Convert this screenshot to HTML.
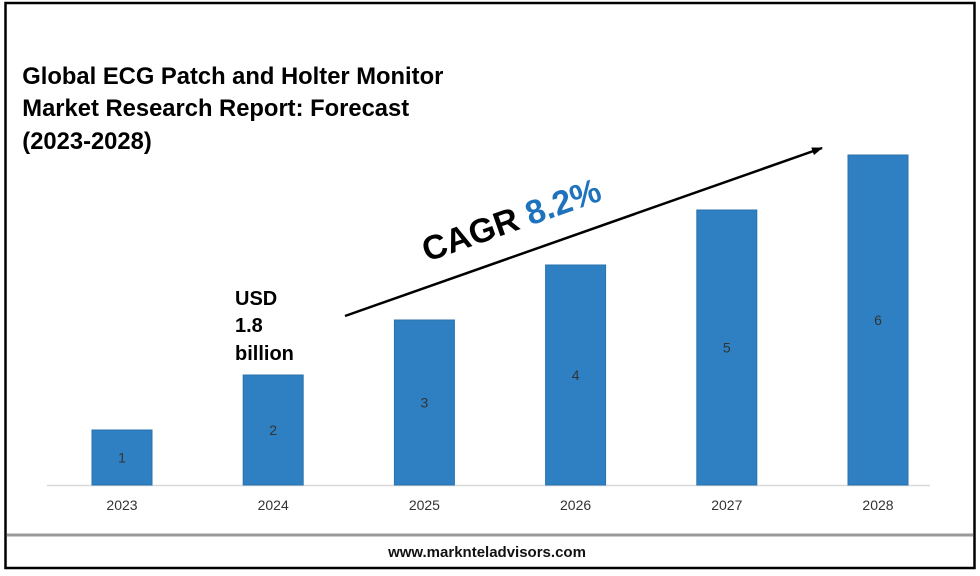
<!DOCTYPE html>
<html><head><meta charset="utf-8"><style>
body{margin:0;width:980px;height:571px;background:#fff;font-family:"Liberation Sans",sans-serif;overflow:hidden}
</style></head><body>
<svg width="980" height="571" xmlns="http://www.w3.org/2000/svg">
<rect x="5.5" y="3" width="969" height="565" fill="#fff" stroke="#000" stroke-width="2.5"/>
<line x1="7" y1="535" x2="973" y2="535" stroke="#999" stroke-width="3"/>
<text x="487" y="557" text-anchor="middle" font-size="15" font-weight="bold" fill="#111">www.marknteladvisors.com</text>
<g font-size="24.5" font-weight="bold" fill="#000" transform="scale(0.97,1)">
<text x="23" y="84">Global ECG Patch and Holter Monitor</text>
<text x="23" y="116">Market Research Report: Forecast</text>
<text x="23" y="149">(2023-2028)</text>
</g>
<line x1="47" y1="485.5" x2="930" y2="485.5" stroke="#d9d9d9" stroke-width="1.5"/>
<g id="bars"></g>
<g font-size="20" font-weight="bold" fill="#000">
<text x="235" y="305">USD</text><text x="235" y="332">1.8</text><text x="235" y="360">billion</text>
</g>
<defs><marker id="ah" markerUnits="userSpaceOnUse" markerWidth="11" markerHeight="8" refX="10" refY="4" orient="auto"><path d="M0,0L11,4L0,8z" fill="#000"/></marker></defs>
<line x1="345" y1="316" x2="822" y2="148" stroke="#000" stroke-width="2.5" marker-end="url(#ah)"/>
<text transform="translate(427,262) rotate(-19.4)" font-size="34" font-weight="bold"><tspan fill="#000">CAGR </tspan><tspan fill="#1f73bd">8.2%</tspan></text>
</svg>
<script>
const categories=["2023","2024","2025","2026","2027","2028"];
const values=[1,2,3,4,5,6];
const barLabels=["1","2","3","4","5","6"];
const ns="http://www.w3.org/2000/svg";
const g=document.getElementById("bars");
const x0=122,step=151.2,bw=60,base=485,unit=55;
function xs(i){return x0+i*step;}
function ys(v){return base-v*unit;}
categories.forEach((c,i)=>{
 const r=document.createElementNS(ns,"rect");
 r.setAttribute("x",xs(i)-bw/2);r.setAttribute("y",ys(values[i]));
 r.setAttribute("width",bw);r.setAttribute("height",base-ys(values[i]));
 r.setAttribute("fill","#2e80c2");r.setAttribute("stroke","#2a72ad");
 
 
 g.appendChild(r);
 const t=document.createElementNS(ns,"text");
 t.setAttribute("x",xs(i));t.setAttribute("y",(ys(values[i])+base)/2+5);
 t.setAttribute("text-anchor","middle");t.setAttribute("font-size","14");t.setAttribute("fill","#333");
 t.textContent=barLabels[i];
 
 
 g.appendChild(t);
 const l=document.createElementNS(ns,"text");
 l.setAttribute("x",xs(i));l.setAttribute("y",510);
 l.setAttribute("text-anchor","middle");l.setAttribute("font-size","14");l.setAttribute("fill","#333");
 l.textContent=c;
 
 
 g.appendChild(l);
});
</script>
</body></html>
